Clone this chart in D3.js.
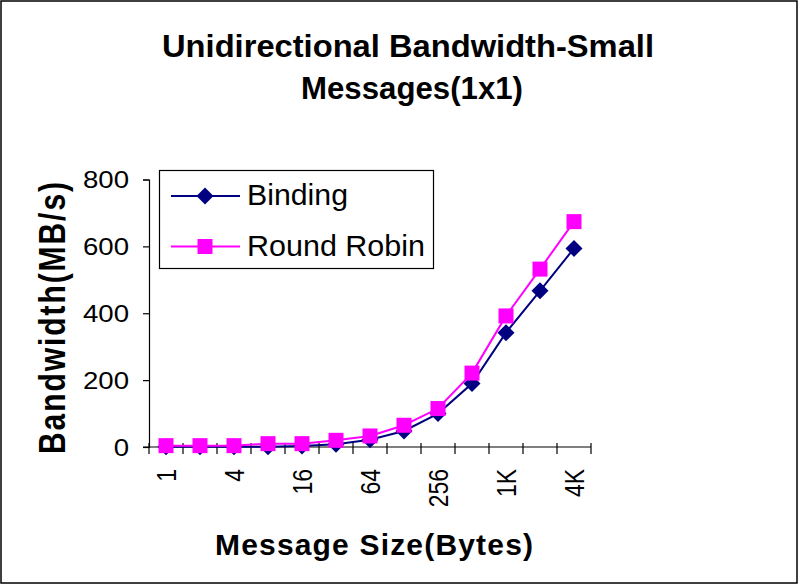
<!DOCTYPE html>
<html>
<head>
<meta charset="utf-8">
<script src="https://cdn.jsdelivr.net/npm/d3@7"></script>
<style>
  html, body { margin: 0; padding: 0; background: #fff; }
  svg { display: block; }
  text { font-family: Arial, "Liberation Sans", sans-serif; fill: #000; }
</style>
</head>
<body>
<svg id="chart" width="798" height="584"></svg>
<script>
// Message sizes (bytes) along the x axis
const categories = ["1", "2", "4", "8", "16", "32", "64", "128", "256", "512", "1K", "2K", "4K"];
// Only every other size carries a label
const tickLabels = ["1", "4", "16", "64", "256", "1K", "4K"];
// Bandwidth in MB/s
const binding    = [1, 1, 1, 1, 3, 8, 22, 48, 100, 190, 342, 467, 594];
const roundRobin = [4, 4, 4, 10, 10, 20, 33, 65, 115, 221, 392, 532, 674];
const yTicks = [0, 200, 400, 600, 800];

const seriesList = [
  { name: "Binding",     values: binding,    color: "#000080", shape: "diamond" },
  { name: "Round Robin", values: roundRobin, color: "#FF00FF", shape: "square" }
];

const svg = d3.select("#chart");
const W = 798, H = 584;
const plot = { left: 149, right: 591, top: 179.5, bottom: 447 };
const stretch = 1.2;   // wide glyph look of the labels

// Outer frame
svg.append("rect")
  .attr("x", 1).attr("y", 1).attr("width", W - 2).attr("height", H - 2)
  .attr("fill", "#fff").attr("stroke", "#000").attr("stroke-width", 1.5);

const x = d3.scaleBand().domain(categories).range([plot.left, plot.right]).paddingInner(0).paddingOuter(0);
const y = d3.scaleLinear().domain([0, 800]).range([plot.bottom, plot.top]);
const cx = d => x(d) + x.bandwidth() / 2;

// Y axis
const yAxis = svg.append("g")
  .attr("transform", `translate(${plot.left},0)`)
  .call(d3.axisLeft(y).tickValues(yTicks).tickSize(6).tickPadding(0).tickFormat(d3.format("d")));
yAxis.select(".domain").attr("stroke", "#000").attr("stroke-width", 1.2);
yAxis.selectAll(".tick line").attr("stroke", "#000").attr("stroke-width", 1.2);
yAxis.selectAll(".tick text").remove();
yAxis.selectAll(".tick").append("text")
  .attr("text-anchor", "end")
  .attr("dy", "0.35em")
  .attr("transform", `translate(-20,0) scale(${stretch},1)`)
  .style("font-size", "23px")
  .text(d => d);

// X axis: ticks at the category boundaries, crossing the axis line
const xAxis = svg.append("g").attr("transform", `translate(0,${plot.bottom})`);
xAxis.append("line")
  .attr("x1", plot.left - 6).attr("x2", plot.right)
  .attr("stroke", "#000").attr("stroke-width", 1.2);
const boundaries = categories.map(c => x(c)).concat([x(categories[categories.length - 1]) + x.bandwidth()]);
xAxis.selectAll("line.xtick").data(boundaries).join("line")
  .attr("class", "xtick")
  .attr("x1", d => d).attr("x2", d => d)
  .attr("y1", -4).attr("y2", 7)
  .attr("stroke", "#000").attr("stroke-width", 1.2);
xAxis.selectAll("text.xlab").data(tickLabels).join("text")
  .attr("class", "xlab")
  .attr("text-anchor", "end")
  .attr("dy", "0.35em")
  .attr("transform", d => `translate(${cx(d)},22) scale(${stretch},1) rotate(-90)`)
  .style("font-size", "23px")
  .text(d => d);

// Series: line then markers
const diamond = s => `M0,${-s}L${s},0L0,${s}L${-s},0Z`;
function marker(sel, shape, color) {
  if (shape === "diamond") {
    sel.append("path").attr("d", diamond(8.5)).attr("fill", color);
  } else {
    sel.append("rect").attr("x", -7.5).attr("y", -7.5).attr("width", 15).attr("height", 15).attr("fill", color);
  }
}

const line = d3.line().x((d, i) => cx(categories[i])).y(d => y(d));
seriesList.forEach(s => {
  svg.append("path")
    .datum(s.values)
    .attr("fill", "none")
    .attr("stroke", s.color)
    .attr("stroke-width", 2)
    .attr("d", line);
  svg.append("g").selectAll("g").data(s.values).join("g")
    .attr("transform", (d, i) => `translate(${cx(categories[i])},${y(d)})`)
    .each(function () { marker(d3.select(this), s.shape, s.color); });
});

// Legend
const legend = svg.append("g");
legend.append("rect")
  .attr("x", 159.5).attr("y", 170.5).attr("width", 274).attr("height", 98)
  .attr("fill", "#fff").attr("stroke", "#000").attr("stroke-width", 1.2);
const legendRows = [
  { s: seriesList[0], y: 196, len: 101 },
  { s: seriesList[1], y: 246.5, len: 178 }
];
legendRows.forEach(r => {
  legend.append("line")
    .attr("x1", 171).attr("x2", 240).attr("y1", r.y).attr("y2", r.y)
    .attr("stroke", r.s.color).attr("stroke-width", 2);
  const g = legend.append("g").attr("transform", `translate(205,${r.y})`);
  marker(g, r.s.shape, r.s.color);
  legend.append("text")
    .attr("x", 247).attr("y", r.y + 9)
    .attr("textLength", r.len).attr("lengthAdjust", "spacingAndGlyphs")
    .style("font-size", "29px")
    .text(r.s.name);
});

// Titles
svg.append("text")
  .attr("x", 408).attr("y", 57)
  .attr("text-anchor", "middle")
  .attr("textLength", 492).attr("lengthAdjust", "spacingAndGlyphs")
  .style("font-size", "32px").style("font-weight", "bold")
  .text("Unidirectional Bandwidth-Small");
svg.append("text")
  .attr("x", 412).attr("y", 99)
  .attr("text-anchor", "middle")
  .attr("textLength", 222).attr("lengthAdjust", "spacingAndGlyphs")
  .style("font-size", "32px").style("font-weight", "bold")
  .text("Messages(1x1)");

svg.append("text")
  .attr("x", 374).attr("y", 555)
  .attr("text-anchor", "middle")
  .attr("textLength", 318).attr("lengthAdjust", "spacing")
  .style("font-size", "30px").style("font-weight", "bold")
  .text("Message Size(Bytes)");

svg.append("text")
  .attr("transform", `translate(65,318) scale(${stretch},1) rotate(-90)`)
  .attr("text-anchor", "middle")
  .attr("textLength", 272).attr("lengthAdjust", "spacing")
  .style("font-size", "30px").style("font-weight", "bold")
  .text("Bandwidth(MB/s)");
</script>
</body>
</html>
